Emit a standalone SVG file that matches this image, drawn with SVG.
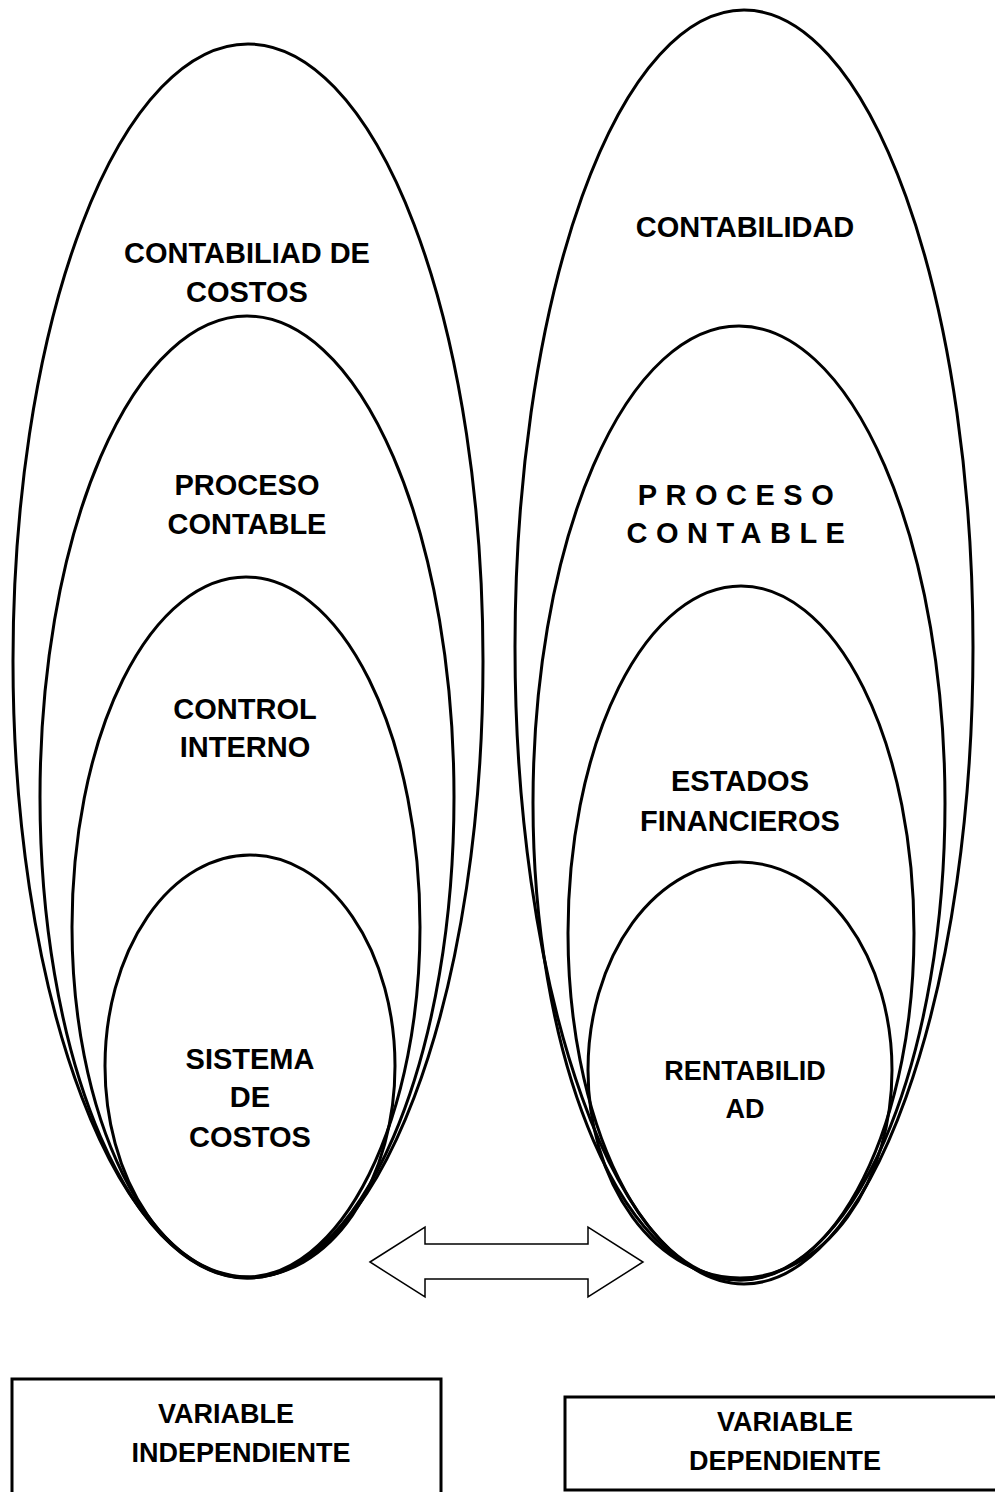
<svg xmlns="http://www.w3.org/2000/svg" width="995" height="1492" viewBox="0 0 995 1492">
  <style>
    .ring { fill: none; stroke: #000; stroke-width: 3; }
    .box { fill: #fff; stroke: #000; stroke-width: 3; }
    .lbl { font-family: "Liberation Sans", Arial, sans-serif; font-weight: bold; font-size: 29px; fill: #000; text-anchor: middle; }
    .small { font-size: 27px; }
    .spaced { letter-spacing: 8.5px; }
    .arrow { fill: #fff; stroke: #000; stroke-width: 1.5; stroke-linejoin: miter; }
  </style>
  <rect width="995" height="1492" fill="#fff"/>

  <!-- independent variable: nested ellipses -->
  <g id="contabilidad-costos">
    <ellipse class="ring" cx="248" cy="661" rx="235" ry="617"/>
    <text class="lbl" x="247" y="263">CONTABILIAD DE</text>
    <text class="lbl" x="247" y="302">COSTOS</text>
  </g>
  <g id="proceso-contable-izq">
    <ellipse class="ring" cx="247" cy="797" rx="207" ry="481"/>
    <text class="lbl" x="247" y="495">PROCESO</text>
    <text class="lbl" x="247" y="534">CONTABLE</text>
  </g>
  <g id="control-interno">
    <ellipse class="ring" cx="246" cy="927" rx="174" ry="350"/>
    <text class="lbl" x="245" y="719">CONTROL</text>
    <text class="lbl" x="245" y="757">INTERNO</text>
  </g>
  <g id="sistema-costos">
    <ellipse class="ring" cx="250" cy="1066" rx="145" ry="211"/>
    <text class="lbl" x="250" y="1069">SISTEMA</text>
    <text class="lbl" x="250" y="1107">DE</text>
    <text class="lbl" x="250" y="1147">COSTOS</text>
  </g>

  <!-- dependent variable: nested ellipses -->
  <g id="contabilidad">
    <ellipse class="ring" cx="744" cy="647" rx="229" ry="637"/>
    <text class="lbl" x="745" y="237">CONTABILIDAD</text>
  </g>
  <g id="proceso-contable-der">
    <ellipse class="ring" cx="739" cy="803" rx="206" ry="477"/>
    <text class="lbl spaced" x="740" y="505">PROCESO</text>
    <text class="lbl spaced" x="740" y="543">CONTABLE</text>
  </g>
  <g id="estados-financieros">
    <ellipse class="ring" cx="741" cy="933" rx="173" ry="347"/>
    <text class="lbl" x="740" y="791">ESTADOS</text>
    <text class="lbl" x="740" y="831">FINANCIEROS</text>
  </g>
  <g id="rentabilidad">
    <ellipse class="ring" cx="740" cy="1070" rx="152" ry="208"/>
    <text class="lbl small" x="745" y="1080">RENTABILID</text>
    <text class="lbl small" x="745" y="1118">AD</text>
  </g>

  <!-- two-way relation between the variables -->
  <g id="connectors">
    <polygon class="arrow" points="370,1262 425,1227 425,1244 588,1244 588,1227 643,1262 588,1297 588,1279 425,1279 425,1297"/>
  </g>

  <!-- variable captions -->
  <g id="variable-independiente">
    <rect class="box" x="12" y="1379" width="429" height="200"/>
    <text class="lbl small" x="226" y="1423">VARIABLE</text>
    <text class="lbl small" x="241" y="1462">INDEPENDIENTE</text>
  </g>
  <g id="variable-dependiente">
    <rect class="box" x="565" y="1397" width="470" height="93"/>
    <text class="lbl small" x="785" y="1431">VARIABLE</text>
    <text class="lbl small" x="785" y="1470">DEPENDIENTE</text>
  </g>
</svg>
